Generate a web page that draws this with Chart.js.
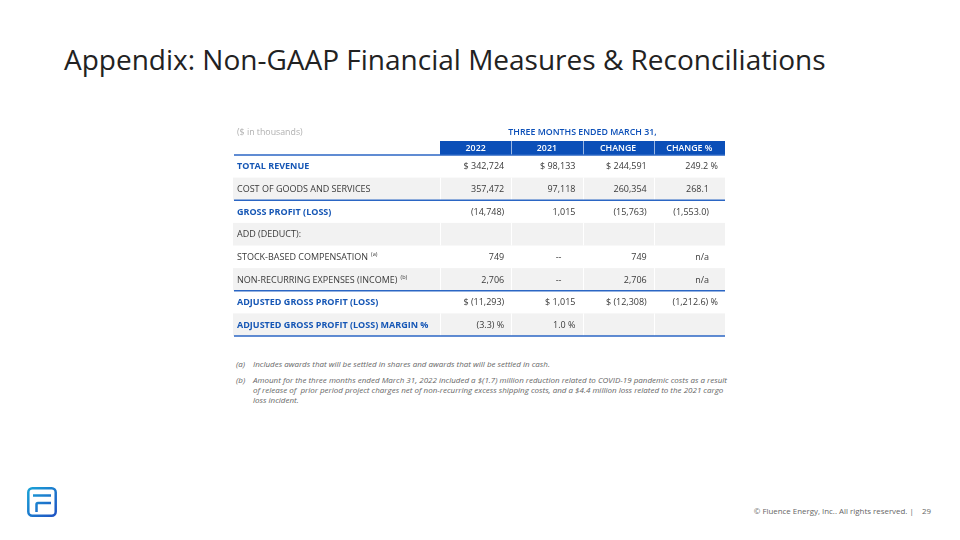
<!DOCTYPE html>
<html>
<head>
<meta charset="utf-8">
<script src="https://cdn.jsdelivr.net/npm/chart.js@4.4.1/dist/chart.umd.min.js"></script>
<style>
  body { margin: 0; width: 960px; height: 540px; background: #fff; font-family: "Open Sans", sans-serif; position: relative; overflow: hidden; }
  h1 { position: absolute; left: 64px; top: 40px; margin: 0; font-weight: 400; font-size: 28px; color: #222; letter-spacing: 0; }
  #tableBox { position: absolute; left: 225px; top: 120px; width: 510px; height: 225px; }
  .notes { position: absolute; left: 236px; top: 359px; width: 500px; font-size: 8px; font-style: italic; color: #666; line-height: 10px; }
  .notes div { position: relative; padding-left: 17px; margin-bottom: 6px; white-space: nowrap; }
  .notes span { position: absolute; left: 0; }
  .footer { position: absolute; right: 29px; top: 506px; font-size: 7.9px; color: #666; }
  .logo { position: absolute; left: 27px; top: 487px; }
</style>
</head>
<body>
<h1>Appendix: Non-GAAP Financial Measures &amp; Reconciliations</h1>
<div id="tableBox"><canvas id="tableChart"></canvas></div>
<div class="notes">
  <div><span>(a)</span>Includes awards that will be settled in shares and awards that will be settled in cash.</div>
  <div><span>(b)</span>Amount for the three months ended March 31, 2022 included a $(1.7) million reduction related to COVID-19 pandemic costs as a result<br>of release of&nbsp; prior period project charges net of non-recurring excess shipping costs, and a $4.4 million loss related to the 2021 cargo<br>loss incident.</div>
</div>
<div class="footer">© Fluence Energy, Inc.. All rights reserved. |&nbsp;&nbsp;&nbsp; 29</div>
<svg class="logo" width="30" height="30" viewBox="0 0 30 30">
  <defs>
    <linearGradient id="lg" gradientUnits="userSpaceOnUse" x1="0" y1="0" x2="30" y2="30">
      <stop offset="0" stop-color="#19a6d8"/>
      <stop offset="1" stop-color="#1f4fc2"/>
    </linearGradient>
  </defs>
  <rect x="1.3" y="1.3" width="27.4" height="27.4" rx="4" fill="none" stroke="url(#lg)" stroke-width="2.5"/>
  <path d="M6 8.5 H24" stroke="url(#lg)" stroke-width="2.5" fill="none"/>
  <path d="M9.5 25 V17.5 Q9.5 16 11 16 H24" stroke="url(#lg)" stroke-width="2.5" fill="none"/>
</svg>
<script>
const columns = ['2022', '2021', 'CHANGE', 'CHANGE %'];
const rowLabels = [
    'TOTAL REVENUE',
    'COST OF GOODS AND SERVICES',
    'GROSS PROFIT (LOSS)',
    'ADD (DEDUCT):',
    'STOCK-BASED COMPENSATION',
    'NON-RECURRING EXPENSES (INCOME)',
    'ADJUSTED GROSS PROFIT (LOSS)',
    'ADJUSTED GROSS PROFIT (LOSS) MARGIN %'
];
const rowNotes = ['', '', '', '', '(a)', '(b)', '', ''];
const boldRows = [true, false, true, false, false, false, true, true];
const shadedRows = [false, true, false, true, false, true, false, true];
const ruleBelow = [false, true, false, false, false, true, false, true];

const values2022 = ['$ 342,724', '357,472', '(14,748)', '', '749', '2,706', '$ (11,293)', '(3.3) %'];
const values2021 = ['$ 98,133', '97,118', '1,015', '', '--', '--', '$ 1,015', '1.0 %'];
const valuesChange = ['$ 244,591', '260,354', '(15,763)', '', '749', '2,706', '$ (12,308)', ''];
const valuesChangePct = ['249.2 %', '268.1', '(1,553.0)', '', 'n/a', 'n/a', '(1,212.6) %', ''];
const tableValues = [values2022, values2021, valuesChange, valuesChangePct];

const periodTitle = 'THREE MONTHS ENDED MARCH 31,';
const unitsNote = '($ in thousands)';

const blue = '#0b4fb8';
const labelBlue = '#1556b5';
const font = '"Open Sans", sans-serif';
const labelWidth = 207;

const tablePlugin = {
    id: 'tablePlugin',
    afterDraw(chart) {
        const ctx = chart.ctx;
        const x = chart.scales.x;
        const y = chart.scales.y;
        const area = chart.chartArea;
        const colW = (area.right - area.left) / columns.length;
        const rowH = (area.bottom - area.top) / rowLabels.length;
        const left = area.left - labelWidth;

        ctx.save();

        // header band
        const headTop = area.top - 14;
        ctx.fillStyle = blue;
        ctx.fillRect(area.left, headTop, area.right - area.left, 14);
        ctx.strokeStyle = 'rgba(255,255,255,0.6)';
        ctx.lineWidth = 1;
        columns.forEach(function(col, i) {
            const cx = x.getPixelForValue(i);
            if (i > 0) {
                ctx.beginPath();
                ctx.moveTo(Math.round(cx - colW / 2) + 0.5, headTop);
                ctx.lineTo(Math.round(cx - colW / 2) + 0.5, area.top);
                ctx.stroke();
            }
            ctx.fillStyle = '#fff';
            ctx.font = '600 8.8px ' + font;
            ctx.textAlign = 'center';
            ctx.textBaseline = 'middle';
            ctx.fillText(col, cx, headTop + 7.5);
        });

        ctx.fillStyle = blue;
        ctx.font = '600 8.8px ' + font;
        ctx.textAlign = 'center';
        ctx.fillText(periodTitle, (area.left + area.right) / 2, headTop - 9);
        ctx.fillStyle = '#b0b0b0';
        ctx.font = '400 8.8px ' + font;
        ctx.textAlign = 'left';
        ctx.fillText(unitsNote, left + 4, headTop - 9);

        // rows
        rowLabels.forEach(function(label, r) {
            const cy = y.getPixelForValue(r);
            const top = cy - rowH / 2;
            if (shadedRows[r]) {
                ctx.fillStyle = '#f2f2f2';
                ctx.fillRect(left, top, area.right - left, rowH);
                ctx.strokeStyle = '#fff';
                ctx.lineWidth = 1;
                for (let i = 0; i < columns.length; i++) {
                    const bx = Math.round(x.getPixelForValue(i) - colW / 2) + 0.5;
                    ctx.beginPath();
                    ctx.moveTo(bx, top);
                    ctx.lineTo(bx, top + rowH);
                    ctx.stroke();
                }
            }

            ctx.textBaseline = 'middle';
            ctx.textAlign = 'left';
            ctx.fillStyle = boldRows[r] ? labelBlue : '#3a3a3a';
            ctx.font = (boldRows[r] ? '700 ' : '400 ') + '9px ' + font;
            ctx.fillText(label, left + 4, cy + 0.5);
            if (rowNotes[r]) {
                const w = ctx.measureText(label).width;
                ctx.font = '400 5.6px ' + font;
                ctx.fillText(rowNotes[r], left + 4 + w + 3, cy - 2);
            }

            ctx.fillStyle = '#3a3a3a';
            ctx.font = '400 9px ' + font;
            ctx.textAlign = 'right';
            tableValues.forEach(function(vals, c) {
                const v = vals[r];
                if (!v) return;
                const colRight = x.getPixelForValue(c) + colW / 2;
                let pad = 7;
                if (c === columns.length - 1 && v.indexOf('%') < 0) pad = 16;
                if (v === '--') pad = 21;
                ctx.fillText(v, colRight - pad, cy + 0.5);
            });
        });

        // blue rules
        ctx.strokeStyle = '#2b66c4';
        ctx.lineWidth = 1.5;
        const rule = function(py) {
            ctx.beginPath();
            ctx.moveTo(left + 1, py);
            ctx.lineTo(area.right, py);
            ctx.stroke();
        };
        rule(area.top);
        ruleBelow.forEach(function(on, r) {
            if (on) rule(y.getPixelForValue(r) + rowH / 2);
        });

        ctx.restore();
    }
};

const ctx = document.getElementById('tableChart').getContext('2d');
const tableChart = new Chart(ctx, {
    type: 'bar',
    data: {
        labels: columns,
        datasets: []
    },
    options: {
        responsive: true,
        maintainAspectRatio: false,
        animation: false,
        layout: { padding: { left: 215, right: 10, top: 35, bottom: 9 } },
        plugins: { legend: { display: false }, tooltip: { enabled: false } },
        scales: {
            x: { type: 'category', display: false, offset: true },
            y: { type: 'category', labels: rowLabels, display: false, offset: true }
        }
    },
    plugins: [tablePlugin]
});
</script>
</body>
</html>
